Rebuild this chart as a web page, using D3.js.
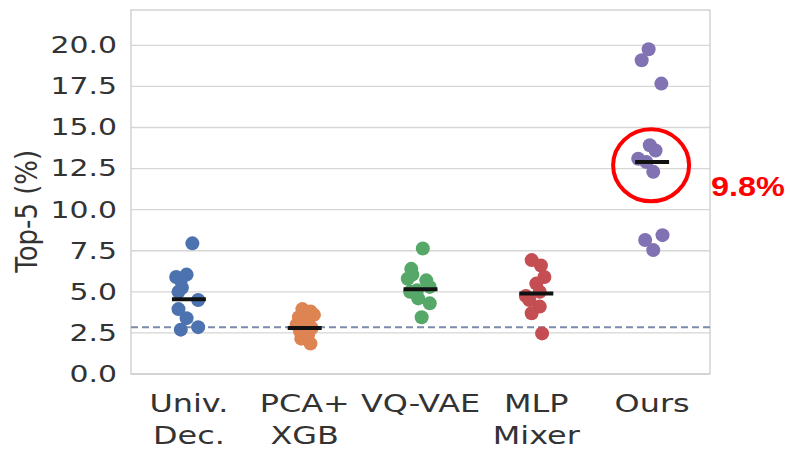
<!DOCTYPE html>
<meta charset="utf-8">
<script src="https://d3js.org/d3.v7.min.js"></script>
<style>
  body { margin: 0; background: #fff; }
  text { font-family: "DejaVu Sans", sans-serif; fill: #333; }
</style>
<div id="my_dataviz"></div>
<script>
// categories and their two-line tick labels
var categories = ["univ", "pca", "vq", "mlp", "ours"];
var tickLabels = [["Univ.", "Dec."], ["PCA+", "XGB"], ["VQ-VAE"], ["MLP", "Mixer"], ["Ours"]];
var yTicks = [0, 2.5, 5, 7.5, 10, 12.5, 15, 17.5, 20];

// per-run Top-5 values
var univVals = [7.95, 6.05, 5.9, 5.7, 5.25, 5.0, 4.5, 3.95, 3.4, 2.7, 2.85];
var pcaVals  = [3.95, 3.8, 3.6, 3.45, 3.2, 3.0, 2.8, 2.6, 2.4, 2.15, 1.85];
var vqVals   = [7.64, 6.4, 6.05, 5.8, 5.7, 5.3, 5.1, 5.0, 4.6, 4.3, 3.45];
var mlpVals  = [6.93, 6.6, 5.9, 5.5, 5.0, 4.75, 4.5, 4.1, 3.7, 2.47];
var oursVals = [19.76, 19.09, 17.67, 13.92, 13.6, 13.1, 12.9, 12.3, 8.45, 8.15, 7.54];

// strip-plot jitter (fraction of category width)
var univJit = [.03, -.02, -.11, -.07, -.06, -.09, .08, -.09, -.02, -.07, .08];
var pcaJit  = [-.02, .05, .08, -.05, .03, -.07, .06, -.04, .03, -.03, .05];
var vqJit   = [.02, -.08, -.07, -.11, .05, .08, -.03, -.09, -.02, .08, .01];
var mlpJit  = [-.04, .04, .07, 0, .03, -.09, -.06, .03, -.04, .05];
var oursJit = [-.03, -.09, .08, -.02, .03, -.12, -.05, .01, .09, -.06, .01];

// central markers and baseline
var centers = [4.55, 2.8, 5.15, 4.9, 12.9];
var baseline = 2.85;
var highlight = "9.8%";

var colors = ["#4C72B0", "#DD8452", "#55A868", "#C44E52", "#8172B3"];

var allVals = [univVals, pcaVals, vqVals, mlpVals, oursVals];
var allJit = [univJit, pcaJit, vqJit, mlpJit, oursJit];

var W = 790, H = 450;
var margin = {top: 10, right: 80, bottom: 76, left: 131};
var sx = 1.3; // the source image is stretched sideways

var svg = d3.select("#my_dataviz")
  .append("svg")
    .attr("width", W)
    .attr("height", H);

var x = d3.scaleBand()
  .domain(categories)
  .range([margin.left, W - margin.right])
  .padding(0);

var y = d3.scaleLinear()
  .domain([0, 22.15])
  .range([H - margin.bottom, margin.top]);

// grid lines
svg.append("g")
  .selectAll("line")
  .data(yTicks)
  .enter().append("line")
    .attr("x1", margin.left)
    .attr("x2", W - margin.right)
    .attr("y1", function(d) { return y(d); })
    .attr("y2", function(d) { return y(d); })
    .attr("stroke", "#d6d6d6")
    .attr("stroke-width", 1.3);

// frame
svg.append("rect")
  .attr("x", margin.left)
  .attr("y", margin.top)
  .attr("width", W - margin.right - margin.left)
  .attr("height", H - margin.bottom - margin.top)
  .attr("fill", "none")
  .attr("stroke", "#cccccc")
  .attr("stroke-width", 1.3);

// y axis
var yAxis = svg.append("g")
  .attr("transform", "translate(" + margin.left + ",0)")
  .call(d3.axisLeft(y).tickValues(yTicks).tickFormat(d3.format(".1f")).tickSize(0).tickPadding(14));
yAxis.select(".domain").remove();
yAxis.selectAll("text")
  .attr("x", -14 / sx)
  .attr("transform", "scale(" + sx + ",1)")
  .style("font-size", "23px")
  .attr("fill", "#333");

// x axis
var xAxis = svg.append("g")
  .attr("transform", "translate(0," + (H - margin.bottom) + ")")
  .call(d3.axisBottom(x).tickSize(0).tickFormat(""));
xAxis.select(".domain").remove();
xAxis.selectAll(".tick").each(function(d, i) {
  var t = d3.select(this).append("text")
    .attr("text-anchor", "middle")
    .attr("transform", "scale(1.33,1)")
    .attr("fill", "#333")
    .style("font-size", "24px");
  tickLabels[i].forEach(function(line, j) {
    t.append("tspan")
      .attr("x", 0)
      .attr("y", 38 + j * 32)
      .text(line);
  });
});

// y label
svg.append("text")
  .attr("transform", "translate(37," + y(9.9) + ") scale(1.15,1) rotate(-90)")
  .attr("text-anchor", "middle")
  .style("font-size", "26px")
  .text("Top-5 (%)");

// baseline
svg.append("line")
  .attr("x1", margin.left)
  .attr("x2", W - margin.right)
  .attr("y1", y(baseline))
  .attr("y2", y(baseline))
  .attr("stroke", "#7b8bab")
  .attr("stroke-width", 2)
  .attr("stroke-dasharray", "7,4");

// points
categories.forEach(function(c, i) {
  var cx = x(c) + x.bandwidth() / 2;
  svg.append("g")
    .selectAll("circle")
    .data(allVals[i])
    .enter().append("circle")
      .attr("cx", function(d, j) { return cx + allJit[i][j] * x.bandwidth(); })
      .attr("cy", function(d) { return y(d); })
      .attr("r", 7)
      .attr("fill", colors[i]);
});

// center bars
svg.append("g")
  .selectAll("line")
  .data(centers)
  .enter().append("line")
    .attr("x1", function(d, i) { return x(categories[i]) + x.bandwidth() / 2 - 17; })
    .attr("x2", function(d, i) { return x(categories[i]) + x.bandwidth() / 2 + 17; })
    .attr("y1", function(d) { return y(d); })
    .attr("y2", function(d) { return y(d); })
    .attr("stroke", "#111")
    .attr("stroke-width", 4);

// highlight ellipse + label
var ox = x("ours") + x.bandwidth() / 2;
svg.append("ellipse")
  .attr("cx", ox - 1)
  .attr("cy", y(12.7))
  .attr("rx", 38)
  .attr("ry", 36)
  .attr("fill", "none")
  .attr("stroke", "#ff0000")
  .attr("stroke-width", 4);
svg.append("text")
  .attr("transform", "translate(711," + (y(11.3) + 8) + ") scale(1.2,1)")
  .style("font-size", "27px")
  .style("font-weight", "bold")
  .style("font-family", "'Liberation Sans', Arial, sans-serif")
  .style("fill", "#ff0000")
  .text(highlight);
</script>
